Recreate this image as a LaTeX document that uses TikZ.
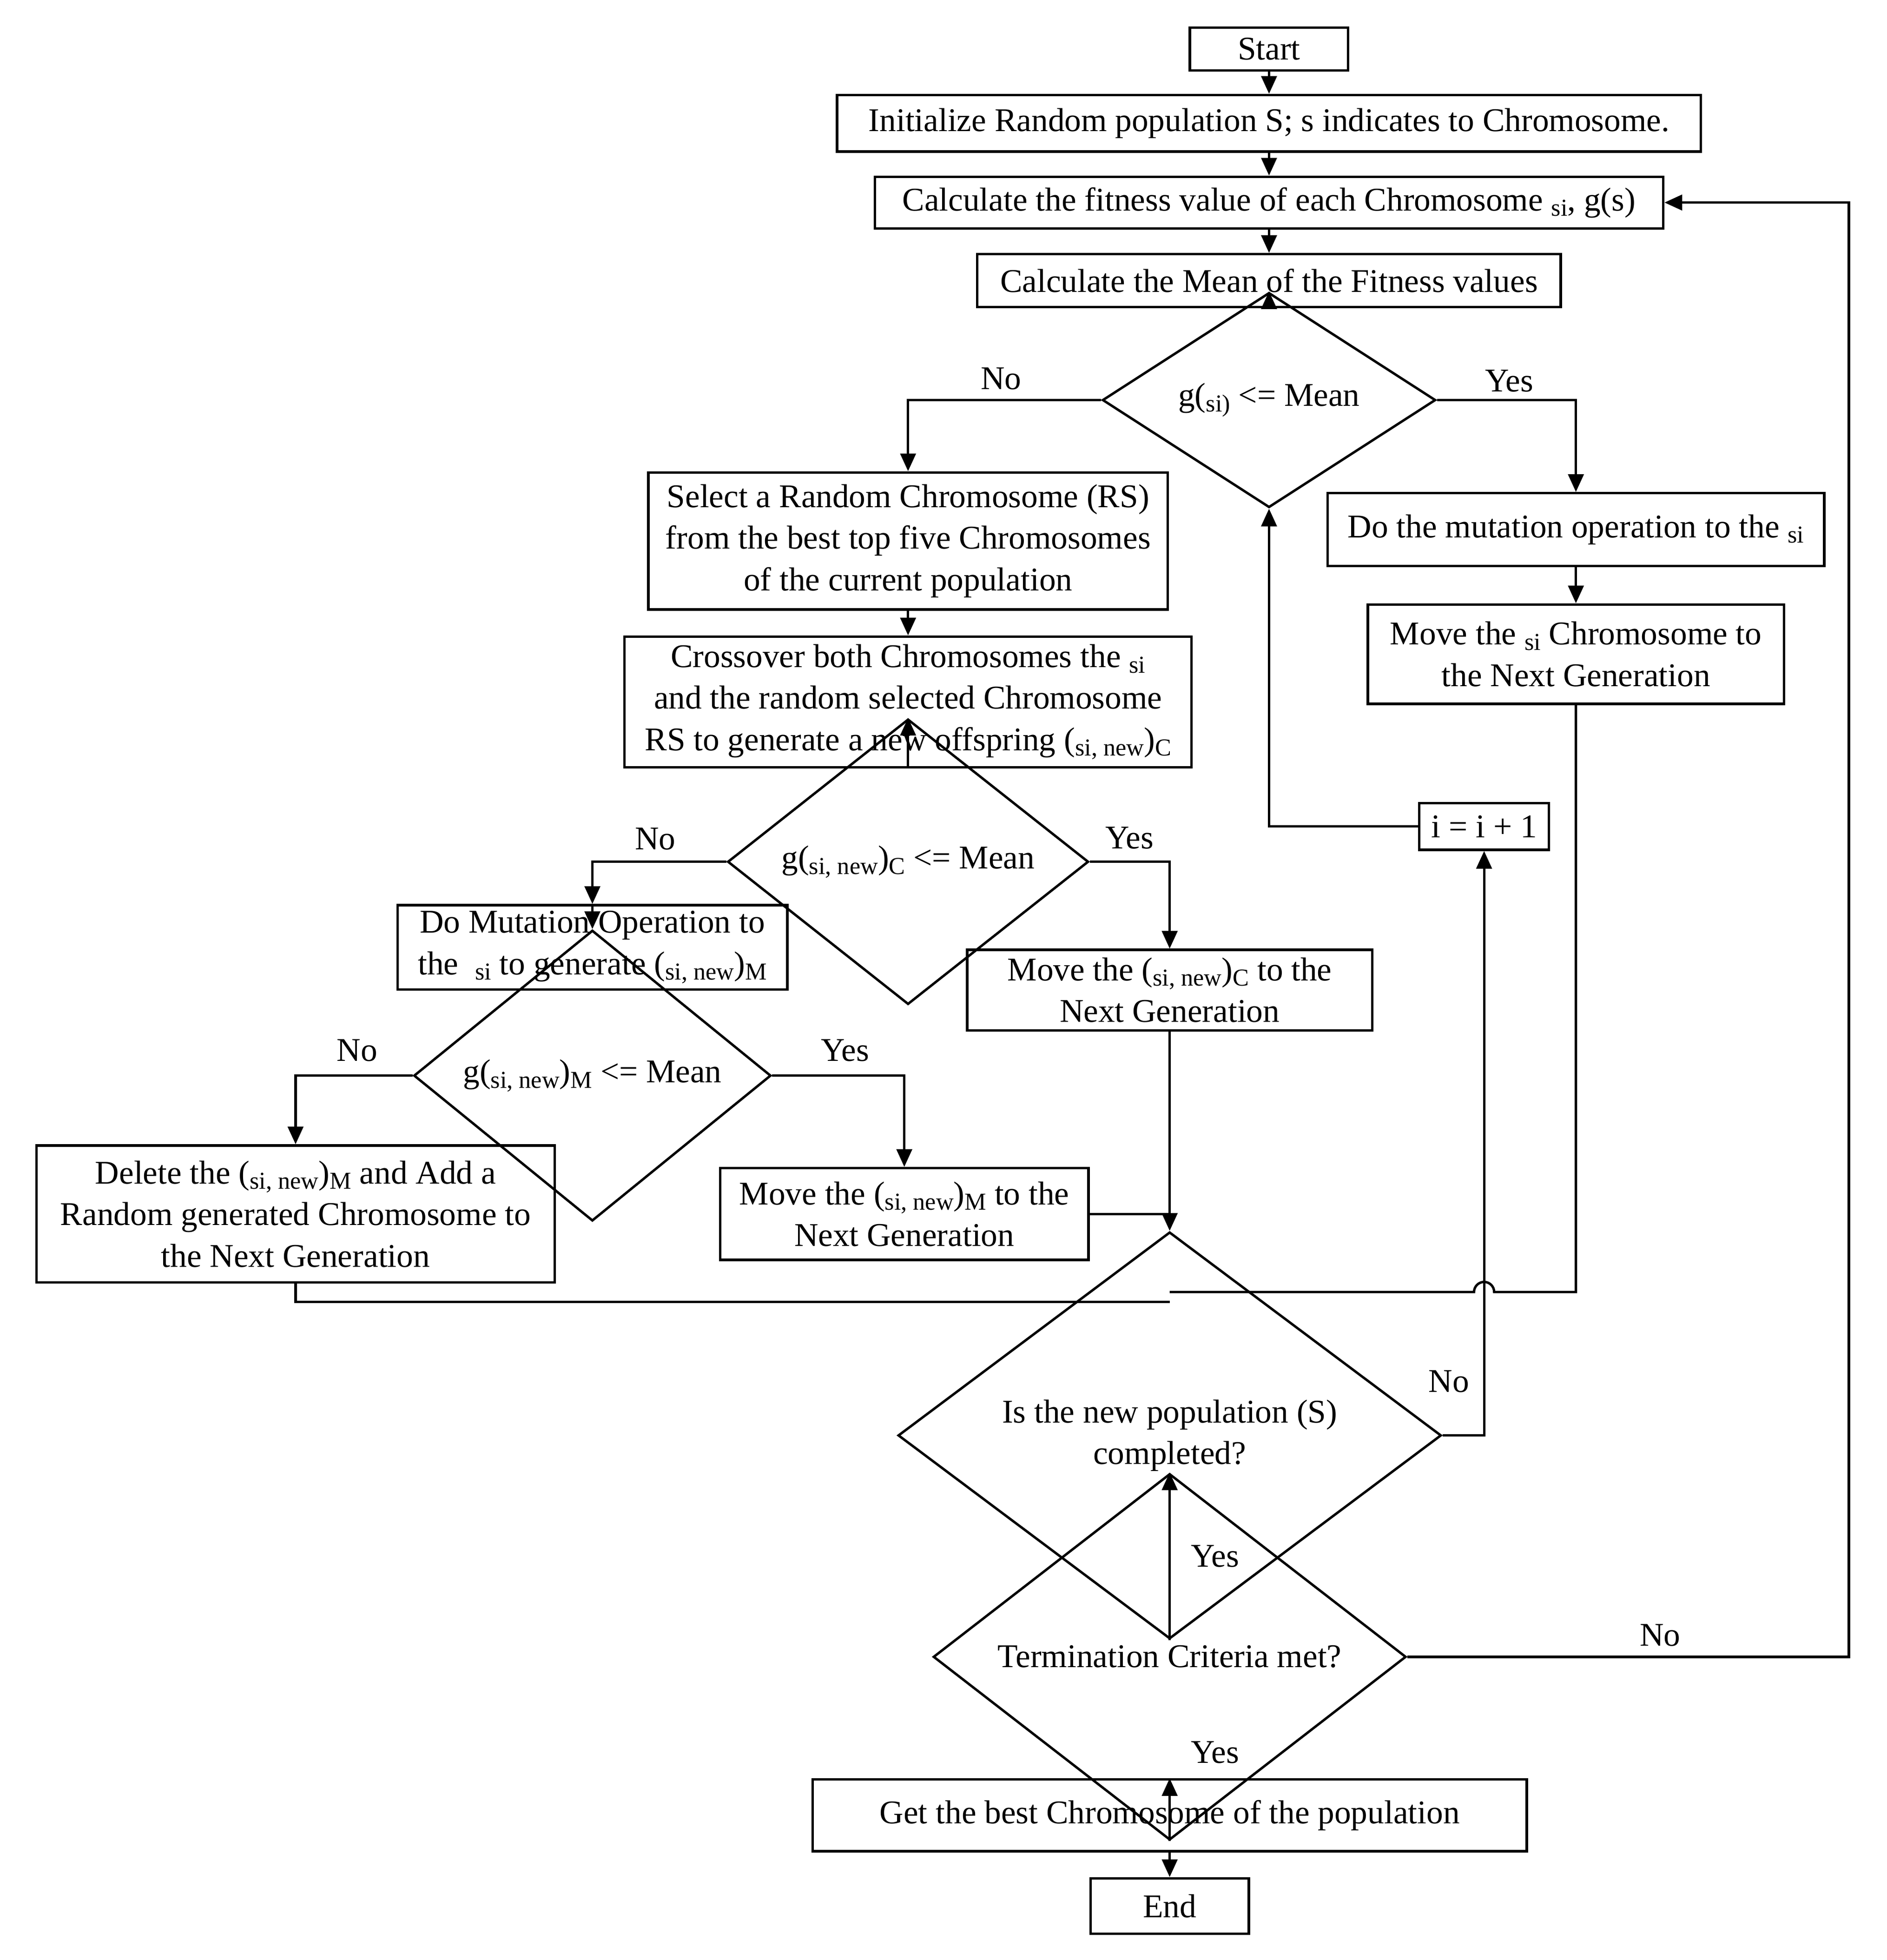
\documentclass[tikz,border=0pt]{standalone}
\usepackage{fontspec}
\setmainfont{Liberation Serif}
\usetikzlibrary{shapes.geometric,arrows.meta}
\newcommand{\lowtxt}[1]{\raisebox{-0.35ex}{\fontsize{11}{12}\selectfont #1}}
\tikzset{
  box/.style={draw, line width=1.1pt, align=center, inner sep=2pt},
  dia/.style={draw, diamond, line width=1.1pt, align=center, inner sep=0pt},
  line/.style={line width=1.1pt},
  arr/.style={line width=1.1pt, -{Triangle[length=8pt,width=7pt]}},
  lbl/.style={inner sep=0pt}
}
\begin{document}
\begin{tikzpicture}[x=0.02cm, y=-0.02cm, font=\fontsize{15}{18.8}\selectfont]
        \useasboundingbox (0,0) rectangle (1500,1558);
        % main column
        \node[box, minimum width=2.52cm, minimum height=0.68cm] (start) at (1009,39) {Start};
        \node[box, minimum width=13.74cm, minimum height=0.9cm] (init) at (1009,98) {Initialize Random population S; s indicates to Chromosome.};
        \node[box, minimum width=12.54cm, minimum height=0.82cm] (fit) at (1009,161) {Calculate the fitness value of each Chromosome \lowtxt{si}, g(s)};
        \node[box, minimum width=9.28cm, minimum height=0.84cm] (mean) at (1009,223) {Calculate the Mean of the Fitness values};
        \node[dia, minimum width=5.3cm, minimum height=2.1cm] (d1) at (1009,318) {g(\lowtxt{si)} <= Mean};
        % left branch
        \node[box, minimum width=8.26cm, minimum height=2.18cm] (select) at (722,430) {Select a Random Chromosome (RS)\\from the best top five Chromosomes\\of the current population};
        \node[box, minimum width=9.02cm, minimum height=2.08cm] (cross) at (722,558) {Crossover both Chromosomes the \lowtxt{si}\\and the random selected Chromosome\\RS to generate a new offspring (\lowtxt{si, new})\lowtxt{C}};
        \node[dia, minimum width=5.74cm, minimum height=1.98cm] (d2) at (722,685) {g(\lowtxt{si, new})\lowtxt{C} <= Mean};
        \node[box, minimum width=6.2cm, minimum height=1.34cm] (mutl) at (471,753) {Do Mutation Operation to\\the \ \lowtxt{si} to generate (\lowtxt{si, new})\lowtxt{M}};
        \node[dia, minimum width=5.68cm, minimum height=1.98cm] (d3) at (471,855) {g(\lowtxt{si, new})\lowtxt{M} <= Mean};
        \node[box, minimum width=8.24cm, minimum height=2.18cm] (del) at (235,965) {Delete the (\lowtxt{si, new})\lowtxt{M} and Add a\\Random generated Chromosome to\\the Next Generation};
        \node[box, minimum width=5.86cm, minimum height=1.46cm] (movem) at (719,965) {Move the (\lowtxt{si, new})\lowtxt{M} to the\\Next Generation};
        \node[box, minimum width=6.44cm, minimum height=1.28cm] (movec) at (930,787) {Move the (\lowtxt{si, new})\lowtxt{C} to the\\Next Generation};
        % right branch
        \node[box, minimum width=7.9cm, minimum height=1.16cm] (mutr) at (1253,421) {Do the mutation operation to the \lowtxt{si}};
        \node[box, minimum width=6.62cm, minimum height=1.58cm] (movesi) at (1253,520) {Move the \lowtxt{si} Chromosome to\\the Next Generation};
        \node[box, minimum width=2.06cm, minimum height=0.74cm] (inc) at (1180,657) {i = i + 1};
        % bottom
        \node[dia, minimum width=8.64cm, minimum height=3.24cm] (d4) at (930,1141) {Is the new population (S)\\completed?};
        \node[dia, minimum width=7.52cm, minimum height=2.52cm] (d5) at (930,1317) {Termination Criteria met?};
        \node[box, minimum width=11.36cm, minimum height=1.14cm] (best) at (930,1443) {Get the best Chromosome of the population};
        \node[box, minimum width=2.52cm, minimum height=0.88cm] (end) at (930,1515) {End};
        \coordinate (j1) at (930,965);
        \coordinate (j2) at (930,1035);
        \coordinate (j3) at (930,1027);
        % connectors
        \draw[arr] (start) -- (init);
        \draw[arr] (init) -- (fit);
        \draw[arr] (fit) -- (mean);
        \draw[arr] (mean) -- (d1);
        \draw[arr] (d1.west) -| (select.north);
        \draw[arr] (d1.east) -| (mutr.north);
        \draw[arr] (select) -- (cross);
        \draw[arr] (cross) -- (d2);
        \draw[arr] (mutr) -- (movesi);
        \draw[arr] (d2.west) -| (mutl.north);
        \draw[arr] (d2.east) -| (movec.north);
        \draw[arr] (mutl) -- (d3);
        \draw[arr] (d3.west) -| (del.north);
        \draw[arr] (d3.east) -| (movem.north);
        \draw[arr] (movec) -- (d4);
        \draw[line] (movem.east) -- (j1);
        \draw[line] (del.south) |- (j2);
        \draw[line] (movesi.south) |- (1188,1027) arc[start angle=0, end angle=180, radius=0.16cm] -- (j3);
        \draw[arr] (d4.east) -| (inc.south);
        \draw[arr] (inc.west) -| (d1.south);
        \draw[arr] (d4) -- (d5);
        \draw[arr] (d5.east) -- (1470,1317) |- (fit.east);
        \draw[arr] (d5) -- (best);
        \draw[arr] (best) -- (end);
        % labels
        \node[lbl] (n1) at (796,301) {No};
        \node[lbl] (y1) at (1200,303) {Yes};
        \node[lbl] (n2) at (521,667) {No};
        \node[lbl] (y2) at (898,666) {Yes};
        \node[lbl] (n3) at (284,835) {No};
        \node[lbl] (y3) at (672,835) {Yes};
        \node[lbl] (n4) at (1152,1098) {No};
        \node[lbl] (y4) at (966,1237) {Yes};
        \node[lbl] (n5) at (1320,1300) {No};
        \node[lbl] (y5) at (966,1393) {Yes};
\end{tikzpicture}
\end{document}
